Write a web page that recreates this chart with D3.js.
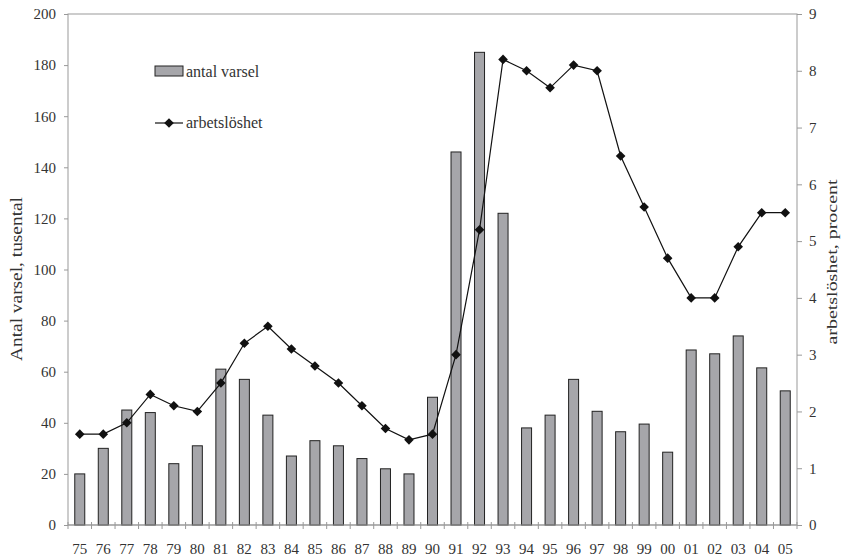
<!DOCTYPE html>
<html>
<head>
<meta charset="utf-8">
<script src="https://d3js.org/d3.v7.min.js"></script>
<style>
  body { margin: 0; background: #fff; }
  text { font-family: "Liberation Serif", "DejaVu Serif", serif; fill: #333; }
</style>
</head>
<body>
<script>
// years on the x axis
var years = ["75","76","77","78","79","80","81","82","83","84","85","86","87","88","89","90",
             "91","92","93","94","95","96","97","98","99","00","01","02","03","04","05"];
// antal varsel, tusental (left axis)
var varsel = [20,30,45,44,24,31,61,57,43,27,33,31,26,22,20,50,
              146,185,122,38,43,57,44.5,36.5,39.5,28.5,68.5,67,74,61.5,52.5];
// arbetslöshet, procent (right axis)
var arbetsloshet = [1.6,1.6,1.8,2.3,2.1,2.0,2.5,3.2,3.5,3.1,2.8,2.5,2.1,1.7,1.5,1.6,
                    3.0,5.2,8.2,8.0,7.7,8.1,8.0,6.5,5.6,4.7,4.0,4.0,4.9,5.5,5.5];
var leftTicks = [0,20,40,60,80,100,120,140,160,180,200];
var rightTicks = [0,1,2,3,4,5,6,7,8,9];

var width = 847, height = 559;
var margin = {top: 14, right: 50, bottom: 34, left: 68};
var w = width - margin.left - margin.right,
    h = height - margin.top - margin.bottom;

var svg = d3.select("body").append("svg")
    .attr("width", width)
    .attr("height", height);

var g = svg.append("g")
    .attr("transform", "translate(" + margin.left + "," + margin.top + ")");

var xb = d3.scaleBand().domain(years).range([0, w]);
var yL = d3.scaleLinear().domain([0, 200]).range([h, 0]);
var yR = d3.scaleLinear().domain([0, 9]).range([h, 0]);

var axisColor = "#999";
var barWidth = 10;

// frame
g.append("rect")
    .attr("x", 0).attr("y", 0).attr("width", w).attr("height", h)
    .attr("fill", "none").attr("stroke", axisColor);

// bars
g.selectAll("rect.bar")
  .data(years)
  .enter().append("rect")
    .attr("class", "bar")
    .attr("x", function(d) { return xb(d) + xb.bandwidth() / 2 - barWidth / 2; })
    .attr("width", barWidth)
    .attr("y", function(d, i) { return yL(varsel[i]); })
    .attr("height", function(d, i) { return h - yL(varsel[i]); })
    .attr("fill", "#a6a6aa")
    .attr("stroke", "#222")
    .attr("stroke-width", 1);

// left axis
var gl = g.append("g")
    .call(d3.axisLeft(yL).tickValues(leftTicks).tickSize(4).tickPadding(8));
gl.select(".domain").remove();
gl.selectAll("line").attr("stroke", axisColor);
gl.selectAll("text").style("font-size", "15px").attr("fill", "#333");

// right axis
var gr = g.append("g")
    .attr("transform", "translate(" + w + ",0)")
    .call(d3.axisRight(yR).tickValues(rightTicks).tickSize(5).tickPadding(7));
gr.select(".domain").remove();
gr.selectAll("line").attr("stroke", axisColor);
gr.selectAll("text").style("font-size", "15px").attr("fill", "#333");

// bottom axis with crossing ticks at band boundaries
var gb = g.append("g").attr("transform", "translate(0," + h + ")");
gb.selectAll("line.tick")
  .data(years.concat(["end"]))
  .enter().append("line")
    .attr("x1", function(d, i) { return i * xb.step(); })
    .attr("x2", function(d, i) { return i * xb.step(); })
    .attr("y1", -3).attr("y2", 4)
    .attr("stroke", axisColor);
gb.append("line").attr("x1", 0).attr("x2", w).attr("stroke", axisColor);
gb.selectAll("text")
  .data(years)
  .enter().append("text")
    .attr("x", function(d) { return xb(d) + xb.bandwidth() / 2; })
    .attr("y", 29)
    .attr("text-anchor", "middle")
    .style("font-size", "15px")
    .text(function(d) { return d; });

// line
var line = d3.line()
    .x(function(d, i) { return xb(years[i]) + xb.bandwidth() / 2; })
    .y(function(d) { return yR(d); });
g.append("path")
    .datum(arbetsloshet)
    .attr("fill", "none")
    .attr("stroke", "#111")
    .attr("stroke-width", 1.2)
    .attr("d", line);

// square diamond marker, same width and height
var diamond = "M0,-4.8L4.8,0L0,4.8L-4.8,0Z";
g.selectAll("path.pt")
  .data(arbetsloshet)
  .enter().append("path")
    .attr("class", "pt")
    .attr("transform", function(d, i) {
      return "translate(" + (xb(years[i]) + xb.bandwidth() / 2) + "," + yR(d) + ")";
    })
    .attr("d", diamond)
    .attr("fill", "#111");

// axis titles
svg.append("text")
    .attr("transform", "translate(22,279) rotate(-90)")
    .attr("text-anchor", "middle")
    .attr("textLength", 164)
    .attr("lengthAdjust", "spacingAndGlyphs")
    .style("font-size", "17px")
    .text("Antal varsel, tusental");
svg.append("text")
    .attr("transform", "translate(837,262) rotate(-90)")
    .attr("text-anchor", "middle")
    .attr("textLength", 165)
    .attr("lengthAdjust", "spacingAndGlyphs")
    .style("font-size", "15px")
    .text("arbetslöshet, procent");

// legend
var lg = svg.append("g");
lg.append("rect")
    .attr("x", 155).attr("y", 66).attr("width", 28).attr("height", 10)
    .attr("fill", "#a6a6aa").attr("stroke", "#222");
lg.append("text")
    .attr("x", 186).attr("y", 77)
    .style("font-size", "16px")
    .text("antal varsel");
lg.append("line")
    .attr("x1", 155).attr("x2", 183).attr("y1", 123).attr("y2", 123)
    .attr("stroke", "#111").attr("stroke-width", 1.2);
lg.append("path")
    .attr("transform", "translate(169,123)")
    .attr("d", diamond)
    .attr("fill", "#111");
lg.append("text")
    .attr("x", 186).attr("y", 128)
    .style("font-size", "16px")
    .text("arbetslöshet");
</script>
</body>
</html>
